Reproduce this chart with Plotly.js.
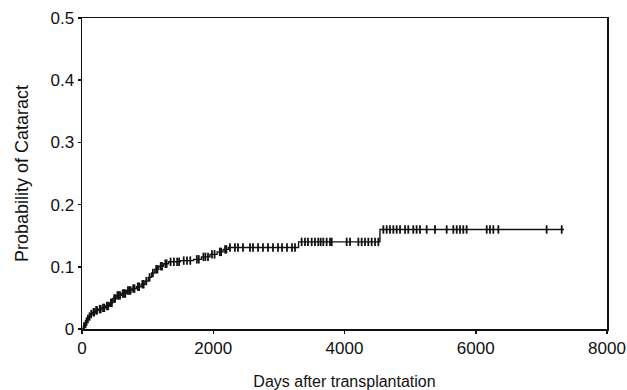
<!DOCTYPE html>
<html>
<head>
<meta charset="utf-8">
<script src="https://cdn.plot.ly/plotly-3.0.1.min.js"></script>
<style>html,body{margin:0;padding:0;background:#fff;}#chart{width:627px;height:390px;}</style>
</head>
<body>
<div id="chart"></div>
<script>
// Step curve: event times (days) and cumulative probability after each event
const eventDays = [0, 20, 40, 60, 80, 100, 130, 160, 200, 250, 300, 360, 420, 470, 520, 600, 680, 760, 830, 900, 960, 1010, 1060, 1110, 1170, 1240, 1320, 1500, 1700, 1820, 1950, 2060, 2150, 2230, 3300, 4540];
const eventProb = [0, 0.004, 0.008, 0.012, 0.016, 0.020, 0.024, 0.027, 0.030, 0.032, 0.034, 0.037, 0.042, 0.049, 0.054, 0.057, 0.062, 0.065, 0.068, 0.072, 0.077, 0.083, 0.090, 0.096, 0.101, 0.105, 0.108, 0.110, 0.112, 0.116, 0.120, 0.124, 0.128, 0.131, 0.140, 0.160];
const lastFollowUp = 7345;

// Censored observations (days)
const censorDays = [
  30, 55, 70, 90, 115, 140, 175, 185, 215, 230, 270, 285, 320, 340, 380, 400, 440, 455, 490, 505, 540, 560, 580, 620, 640, 660, 700, 720, 740, 780, 800, 850, 870, 920, 940, 980, 1030, 1080, 1130, 1150, 1200, 1220, 1270, 1290, 1350, 1400, 1450, 1480, 1550, 1600, 1650, 1750, 1780, 1850, 1880, 1920, 1980, 2020, 2100, 2120, 2180, 2200,
  2255, 2330, 2377, 2453, 2560, 2606, 2682, 2758, 2834, 2910, 2987, 3048, 3124, 3200, 3246,
  3347, 3398, 3444, 3500, 3550, 3600, 3637, 3677, 3728, 3779, 3805, 4033, 4084, 4211, 4262, 4312, 4363, 4414, 4465, 4515,
  4592, 4643, 4693, 4744, 4795, 4846, 4922, 4972, 5048, 5099, 5150, 5252, 5379, 5557, 5658, 5710, 5760, 5810, 5861, 6167, 6217, 6268, 6344, 7080, 7310
];

const xTicks = [0, 2000, 4000, 6000, 8000];
const yTicks = [0, 0.1, 0.2, 0.3, 0.4, 0.5];

function probAt(t) {
  let p = 0;
  for (let i = 0; i < eventDays.length; i++) {
    if (eventDays[i] <= t) p = eventProb[i];
  }
  return p;
}

const lineX = eventDays.concat([lastFollowUp]);
const lineY = eventProb.concat([probAt(lastFollowUp)]);
const censorY = censorDays.map(probAt);

const traces = [
  {
    x: lineX, y: lineY, type: 'scatter', mode: 'lines',
    line: {shape: 'hv', color: '#111', width: 1.4},
    hoverinfo: 'skip', showlegend: false
  },
  {
    x: censorDays, y: censorY, type: 'scatter', mode: 'markers',
    marker: {symbol: 'line-ns', size: 6, line: {color: '#111', width: 1.8}},
    showlegend: false
  }
];

const fam = '"Liberation Sans", Arial, sans-serif';
const tickFont = {family: fam, size: 17, color: '#111'};

const layout = {
  width: 627, height: 390,
  margin: {l: 82, r: 20, t: 18, b: 61},
  paper_bgcolor: '#fff', plot_bgcolor: '#fff',
  font: tickFont,
  showlegend: false,
  xaxis: {
    range: [0, 8000], tickvals: xTicks, ticktext: xTicks.map(String),
    showgrid: false, zeroline: false,
    showline: true, linecolor: '#111', linewidth: 1.5, mirror: true,
    ticks: 'outside', ticklen: 3, tickwidth: 1.5, tickcolor: '#111',
    tickfont: tickFont,
    title: {text: 'Days after transplantation', font: {family: fam, size: 16, color: '#111'}, standoff: 22}
  },
  yaxis: {
    range: [0, 0.5], tickvals: yTicks, ticktext: yTicks.map(v => v === 0 ? '0' : v.toFixed(1)),
    showgrid: false, zeroline: false,
    showline: true, linecolor: '#111', linewidth: 1.5, mirror: true,
    ticks: 'outside', ticklen: 3, tickwidth: 1.5, tickcolor: '#111',
    tickfont: tickFont,
    title: {text: 'Probability of Cataract', font: {family: fam, size: 18, color: '#111'}, standoff: 17}
  }
};

Plotly.newPlot('chart', traces, layout, {staticPlot: true, displayModeBar: false});
</script>
</body>
</html>
